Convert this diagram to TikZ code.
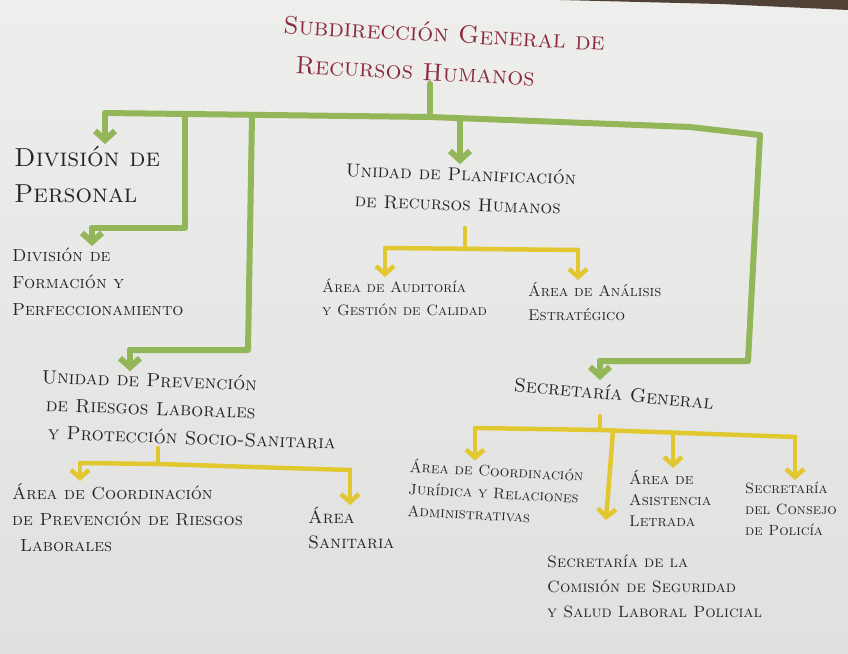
\documentclass[tikz,border=0pt]{standalone}
\usetikzlibrary{arrows.meta}
\definecolor{paperT}{RGB}{238,238,236}
\definecolor{paperB}{RGB}{224,224,222}
\definecolor{gmark}{RGB}{146,182,88}
\definecolor{ymark}{RGB}{226,200,48}
\definecolor{ink}{RGB}{38,38,38}
\definecolor{titleink}{RGB}{140,42,62}
\definecolor{shadow}{RGB}{80,65,55}
\begin{document}
\begin{tikzpicture}[x=1pt,y=-1pt,
  lbl/.style={anchor=north west, inner sep=2pt, align=left, text=ink},
  gline/.style={draw=gmark, line width=6pt, line cap=round, line join=round},
  garrow/.style={gline, -{Straight Barb[length=9pt,width=20pt]}},
  yline/.style={draw=ymark, line width=4.5pt, line cap=round, line join=round},
  yarrow/.style={yline, -{Straight Barb[length=8pt,width=18pt]}}
]
% paper
\shade[top color=paperT, bottom color=paperB] (0,0) rectangle (848,653);
\fill[shadow] (560,0) -- (848,0) -- (848,10) -- (720,4) -- cycle;
\useasboundingbox (0,0) rectangle (848,653);

% title
\node[lbl, text=titleink, font=\fontsize{25}{39}\selectfont\scshape, rotate=-3] (title) at (282,12)
  {Subdirección General de\\\hspace*{14pt}Recursos Humanos};

% level 1
\node[lbl, font=\fontsize{26}{36}\selectfont\scshape] (divper) at (12,144) {División de\\Personal};
\node[lbl, font=\fontsize{17.5}{27}\selectfont\scshape] (divform) at (10,246) {División de\\Formación y\\Perfeccionamiento};
\node[lbl, font=\fontsize{19}{28}\selectfont\scshape, rotate=-2] (uprev) at (40,366) {Unidad de Prevención\\\hspace*{5pt}de Riesgos Laborales\\\hspace*{8pt}y Protección Socio-Sanitaria};
\node[lbl, font=\fontsize{18.5}{30}\selectfont\scshape, rotate=-2] (uplan) at (344,160) {Unidad de Planificación\\\hspace*{10pt}de Recursos Humanos};
\node[lbl, font=\fontsize{19.5}{25}\selectfont\scshape, rotate=-5] (secgen) at (513,374) {Secretaría General};

% level 2
\node[lbl, font=\fontsize{15}{23}\selectfont\scshape] (audit) at (320,277) {Área de Auditoría\\y Gestión de Calidad};
\node[lbl, font=\fontsize{15.5}{24}\selectfont\scshape] (analisis) at (526,280) {Área de Análisis\\Estratégico};
\node[lbl, font=\fontsize{17.5}{26}\selectfont\scshape] (acoord) at (10,481) {Área de Coordinación\\de Prevención de Riesgos\\\hspace*{8pt}Laborales};
\node[lbl, font=\fontsize{18}{25}\selectfont\scshape] (asan) at (306,505) {Área\\Sanitaria};
\node[lbl, font=\fontsize{15.2}{22}\selectfont\scshape, rotate=-3] (ajur) at (408,456) {Área de Coordinación\\Jurídica y Relaciones\\Administrativas};
\node[lbl, font=\fontsize{15.5}{21}\selectfont\scshape] (aasist) at (627,468) {Área de\\Asistencia\\Letrada};
\node[lbl, font=\fontsize{14.8}{21}\selectfont\scshape] (sconsejo) at (743,480) {Secretaría\\del Consejo\\de Policía};
\node[lbl, font=\fontsize{16.3}{25}\selectfont\scshape] (scom) at (545,553) {Secretaría de la\\Comisión de Seguridad\\y Salud Laboral Policial};

% green bar
\coordinate (gL) at (105,113);
\coordinate (gA) at (185,114);
\coordinate (gB) at (252,116);
\coordinate (gT) at (430,117);
\coordinate (gC) at (460,119);
\coordinate (gD) at (690,127);
\coordinate (gR) at (760,135);
\coordinate (gA1) at (185,228);
\coordinate (gA2) at (92,228);
\coordinate (gB1) at (248,350);
\coordinate (gB2) at (130,350);
\coordinate (gR1) at (748,361);
\coordinate (gR2) at (600,361);
\draw[gline] (gL) -- (gT) -- (gD) -- (gR);
\draw[gline] (gT |- title.south) -- (gT);
\draw[garrow] (gL) -- (gL |- divper.north);
\draw[gline] (gA) -- (gA1) -- (gA2);
\draw[garrow] (gA2) -- (gA2 |- divform.north);
\draw[gline] (gB) -- (gB1) -- (gB2);
\draw[garrow] (gB2) -- (gB2 |- uprev.north);
\draw[garrow] (gC) -- (gC |- uplan.north);
\draw[gline] (gR) -- (gR1) -- (gR2);
\draw[garrow] (gR2) -- (600,380);

% yellow: planificacion
\coordinate (yP0) at (465,228);
\coordinate (yP) at (465,248);
\coordinate (yP1) at (385,248);
\coordinate (yP2) at (578,250);
\draw[yline] (yP0) -- (yP);
\draw[yline] (yP1) -- (yP2);
\draw[yarrow] (yP1) -- (yP1 |- audit.north);
\draw[yarrow] (yP2) -- (yP2 |- analisis.north);

% yellow: prevencion
\coordinate (yV0) at (158,448);
\coordinate (yV) at (158,464);
\coordinate (yV1) at (80,463);
\coordinate (yV2) at (350,470);
\draw[yline] (yV0) -- (yV);
\draw[yline] (yV1) -- (yV) -- (yV2);
\draw[yarrow] (yV1) -- (yV1 |- acoord.north);
\draw[yarrow] (yV2) -- (yV2 |- asan.north);

% yellow: secretaria general
\coordinate (yS0) at (600,416);
\coordinate (yS) at (600,430);
\coordinate (yS1) at (475,428);
\coordinate (yS2) at (673,433);
\coordinate (yS3) at (795,437);
\coordinate (yS4) at (613,431);
\coordinate (yS5) at (606,520);
\draw[yline] (yS0) -- (yS);
\draw[yline] (yS1) -- (yS) -- (yS3);
\draw[yarrow] (yS1) -- (yS1 |- ajur.north);
\draw[yarrow] (yS2) -- (yS2 |- aasist.north);
\draw[yarrow] (yS3) -- (yS3 |- sconsejo.north);
\draw[yarrow] (yS4) -- (yS5);
\end{tikzpicture}
\end{document}
